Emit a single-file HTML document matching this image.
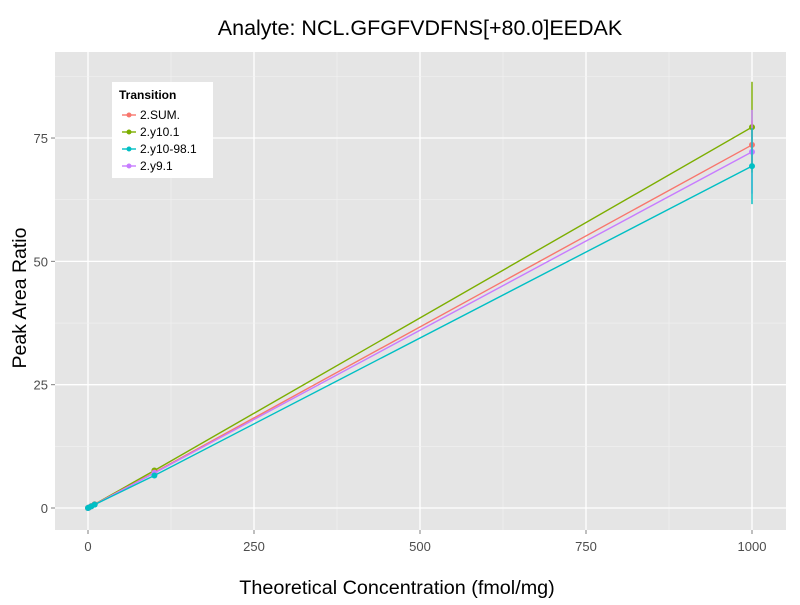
<!DOCTYPE html>
<html><head><style>
body{margin:0;background:#fff;font-family:"Liberation Sans",sans-serif}
</style></head><body>
<svg width="800" height="600" id="c" font-family="Liberation Sans, sans-serif">
<rect width="800" height="600" fill="#fff"/>
<text x="420" y="35" text-anchor="middle" font-size="21.5">Analyte: NCL.GFGFVDFNS[+80.0]EEDAK</text>
<rect x="55" y="52" width="731" height="478" fill="#e5e5e5"/>
<g id="grid"></g>
<g id="marks"></g>
<g id="axes"></g>
<text x="397" y="594" text-anchor="middle" font-size="19.8">Theoretical Concentration (fmol/mg)</text>
<text transform="translate(26,298) rotate(-90)" text-anchor="middle" font-size="19.5">Peak Area Ratio</text>
<g>
<rect x="112" y="82" width="101" height="96" fill="#fff"/>
<text x="119" y="99" font-size="12" font-weight="bold">Transition</text>
<g id="leg"></g>
</g>
</svg>
<script>
const xTicks=[0,250,500,750,1000];
const yTicks=[0,25,50,75];
const concs=[0,1,5,10,100,1000];
const series=["2.SUM.","2.y10.1","2.y10-98.1","2.y9.1"];
const colors=["#F8766D","#7CAE00","#00BFC4","#C77CFF"];
const vSum=[0,0.07,0.36,0.72,7.2,73.6];
const vY10=[0,0.08,0.38,0.76,7.6,77.2];
const vY1098=[0,0.07,0.34,0.68,6.6,69.3];
const vY9=[0,0.07,0.35,0.71,7.1,72.2];
const errs=[[0,0,0,0,0.3,5],[0,0,0,0,0.3,9.2],[0,0,0,0,0.3,7.7],[0,0,0,0,0.3,8.5]];
const vals=[vSum,vY10,vY1098,vY9];
const X=v=>88+v*0.664, Y=v=>508-v*4.933;
const NS="http://www.w3.org/2000/svg";
function mk(p,t,a){const e=document.createElementNS(NS,t);for(const k in a)e.setAttribute(k,a[k]);p.appendChild(e);return e;}
const g=document.getElementById('grid'),ax=document.getElementById('axes'),m=document.getElementById('marks');
for(let i=0;i<xTicks.length;i++){
 if(i<xTicks.length-1){const l=mk(g,'line',{x1:X((xTicks[i]+xTicks[i+1])/2),x2:X((xTicks[i]+xTicks[i+1])/2),y1:52,y2:530,stroke:'#f2f2f2','stroke-width':0.6});}
 const l=mk(g,'line',{x1:X(xTicks[i]),x2:X(xTicks[i]),y1:52,y2:530,stroke:'#fff','stroke-width':1.3});
 
 const tk=mk(ax,'line',{x1:X(xTicks[i]),x2:X(xTicks[i]),y1:530,y2:534,stroke:'#7f7f7f'});
 
 const t=mk(ax,'text',{x:X(xTicks[i]),y:551,'text-anchor':'middle','font-size':13,fill:'#4d4d4d'});t.textContent=xTicks[i];
 
}
const yMinor=[12.5,37.5,62.5,87.5];
for(const v of yMinor){const l=mk(g,'line',{x1:55,x2:786,y1:Y(v),y2:Y(v),stroke:'#f2f2f2','stroke-width':0.6});}
for(const v of yTicks){
 const l=mk(g,'line',{x1:55,x2:786,y1:Y(v),y2:Y(v),stroke:'#fff','stroke-width':1.3});
 
 const tk=mk(ax,'line',{x1:51,x2:55,y1:Y(v),y2:Y(v),stroke:'#7f7f7f'});
 
 const t=mk(ax,'text',{x:48,y:Y(v)+5,'text-anchor':'end','font-size':13,fill:'#4d4d4d'});t.textContent=v;
 
}
const order=[1,0,3,2];
for(const s of order){
 const d=concs.map((c,i)=>(i?'L':'M')+X(c)+','+Y(vals[s][i])).join('');
 const p=mk(m,'path',{d,fill:'none',stroke:colors[s],'stroke-width':1.4});
 
 concs.forEach((c,i)=>{
  if(errs[s][i]>0){const e=mk(m,'line',{x1:X(c),x2:X(c),y1:Y(vals[s][i]-errs[s][i]),y2:Y(vals[s][i]+errs[s][i]),stroke:colors[s],'stroke-width':1.4});
  }
  const pt=mk(m,'circle',{cx:X(c),cy:Y(vals[s][i]),r:3,fill:colors[s]});
  
 });
}
const lg=document.getElementById('leg');
series.forEach((s,i)=>{
 const y=115+i*17;
 const l=mk(lg,'line',{x1:122,x2:136,y1:y,y2:y,stroke:colors[i],'stroke-width':1.4});
 
 const c=mk(lg,'circle',{cx:129,cy:y,r:2.5,fill:colors[i]});
 
 const t=mk(lg,'text',{x:140,y:y+4,'font-size':12});t.textContent=s;
 
});
</script>
</body></html>
